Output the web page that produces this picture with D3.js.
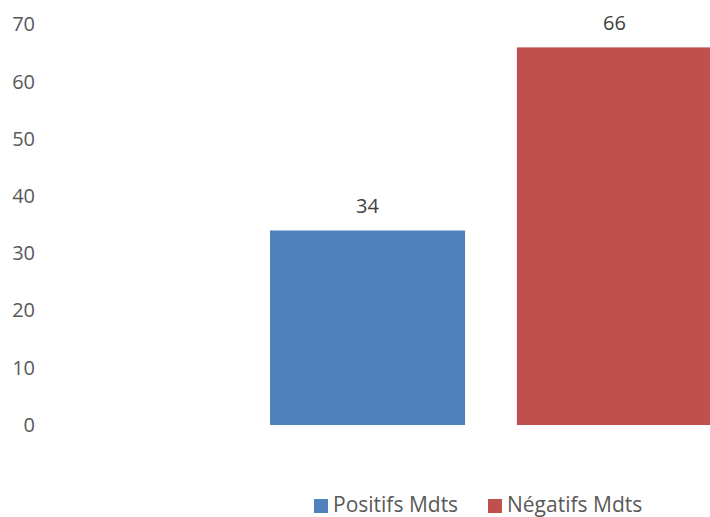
<!DOCTYPE html>
<html>
<head>
<meta charset="utf-8">
<script src="https://cdn.jsdelivr.net/npm/d3@7"></script>
<style>
  html, body { margin: 0; padding: 0; background: #fff; }
  svg { display: block; font-family: "Open Sans", "Noto Sans", sans-serif; }
</style>
</head>
<body>
<svg id="chart" width="710" height="517"></svg>
<script>
const series = ["Positifs Mdts", "Négatifs Mdts"];
const values = [34, 66];
const colors = ["#4F81BD", "#C0504D"];
const yTicks = [0, 10, 20, 30, 40, 50, 60, 70];

const svg = d3.select("#chart");
const y = d3.scaleLinear().domain([0, 70]).range([425, 24.5]);
const x = d3.scaleBand().domain(series).range([270, 712]).paddingInner(0.21).paddingOuter(0);

// y axis labels (no line)
const yAxis = d3.axisLeft(y).tickValues(yTicks).tickSize(0).tickPadding(0);
const gy = svg.append("g").attr("transform", "translate(35,0)").call(yAxis);
gy.select(".domain").remove();
gy.selectAll("text").attr("font-size", 20).attr("fill", "#595959")
  .style("font-family", '"Open Sans", "Noto Sans", sans-serif');

// bars
svg.selectAll("rect.bar").data(series).enter().append("rect")
  .attr("class", "bar")
  .attr("x", d => x(d))
  .attr("width", x.bandwidth())
  .attr("y", (d, i) => y(values[i]))
  .attr("height", (d, i) => y(0) - y(values[i]))
  .attr("fill", (d, i) => colors[i]);

// data labels
svg.selectAll("text.lbl").data(series).enter().append("text")
  .attr("class", "lbl")
  .attr("x", d => x(d) + x.bandwidth() / 2)
  .attr("y", (d, i) => y(values[i]) - 17)
  .attr("text-anchor", "middle")
  .attr("font-size", 20)
  .attr("fill", "#404040")
  .text((d, i) => values[i]);

// legend
const legendX = [314, 488];
const lg = svg.selectAll("g.leg").data(series).enter().append("g")
  .attr("class", "leg")
  .attr("transform", (d, i) => `translate(${legendX[i]},498)`);
lg.append("rect").attr("y", 1).attr("width", 14).attr("height", 14).attr("fill", (d, i) => colors[i]);
lg.append("text").attr("x", 19).attr("y", 14).attr("font-size", 21).attr("fill", "#595959").text(d => d);
</script>
</body>
</html>
